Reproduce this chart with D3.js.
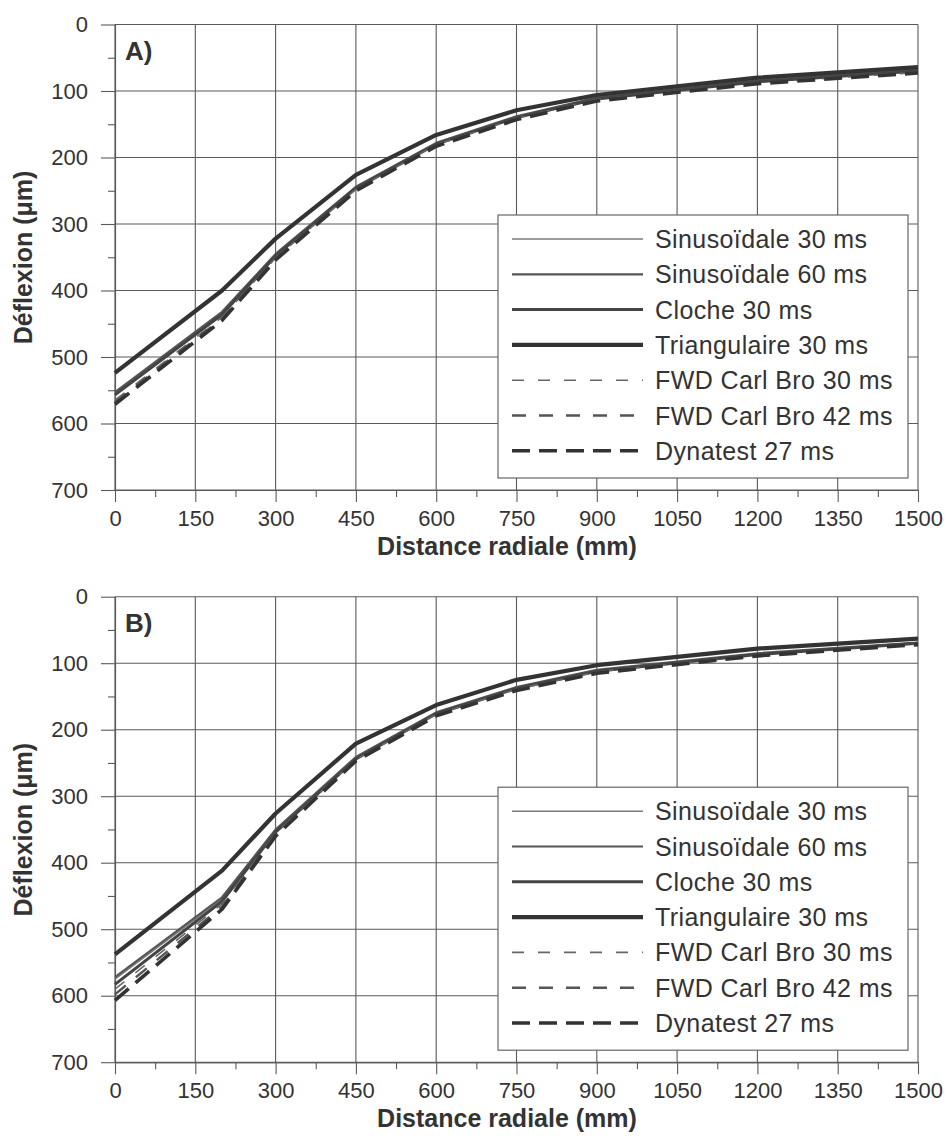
<!DOCTYPE html>
<html><head><meta charset="utf-8">
<script src="https://cdn.jsdelivr.net/npm/d3@7"></script>
<style>
body{margin:0;background:#fff}
svg{display:block}
text{font-family:"Liberation Sans",Arial,Helvetica,sans-serif}
</style>
</head><body>
<svg id="chart" width="948" height="1138"></svg>
<script>
// ---------- DATA ----------
const distances = [0, 200, 300, 450, 600, 750, 900, 1200, 1500];
const xTicks = [0, 150, 300, 450, 600, 750, 900, 1050, 1200, 1350, 1500];
const xMinorTicks = [75, 225, 375, 525, 675, 825, 975, 1125, 1275, 1425];
const yTicks = [0, 100, 200, 300, 400, 500, 600, 700];
const yMinorTicks = [50, 150, 250, 350, 450, 550, 650];
const seriesNames = ["Sinusoïdale 30 ms", "Sinusoïdale 60 ms", "Cloche 30 ms", "Triangulaire 30 ms",
                     "FWD Carl Bro 30 ms", "FWD Carl Bro 42 ms", "Dynatest 27 ms"];
const panelLabels = ["A)", "B)"];
const xTitle = "Distance radiale (mm)";
const yTitle = "Déflexion (μm)";

// Panel A deflections (µm)
const a_sinus30  = [555, 434, 347, 245, 179, 139, 111, 85, 69];
const a_sinus60  = [553, 432, 345, 244, 178, 138, 110, 84, 68];
const a_cloche30 = [557, 436, 348, 246, 180, 140, 112, 86, 70];
const a_triang30 = [524, 400, 322, 226, 166, 129, 106, 80, 64];
const a_fwd30    = [565, 440, 351, 248, 181, 141, 113, 88, 72];
const a_fwd42    = [568, 442, 352, 249, 182, 142, 114, 88, 72];
const a_dyna27   = [571, 445, 354, 250, 183, 143, 115, 89, 73];

// Panel B deflections (µm)
const b_sinus30  = [575, 455, 352, 243, 175, 137, 111, 86, 70];
const b_sinus60  = [572, 452, 350, 241, 174, 136, 110, 85, 69];
const b_cloche30 = [583, 458, 354, 244, 176, 138, 112, 87, 70];
const b_triang30 = [538, 412, 326, 221, 163, 125, 103, 78, 63];
const b_fwd30    = [590, 462, 356, 245, 177, 139, 113, 88, 71];
const b_fwd42    = [598, 466, 358, 246, 178, 140, 114, 88, 71];
const b_dyna27   = [607, 470, 360, 247, 179, 141, 115, 89, 72];

const panelA = [a_sinus30, a_sinus60, a_cloche30, a_triang30, a_fwd30, a_fwd42, a_dyna27];
const panelB = [b_sinus30, b_sinus60, b_cloche30, b_triang30, b_fwd30, b_fwd42, b_dyna27];

// ---------- STYLES ----------
const lineStyles = [
  {stroke:"#7a7a7a", width:1.4, dash:null},
  {stroke:"#555",    width:2.2, dash:null},
  {stroke:"#444",    width:3.0, dash:null},
  {stroke:"#333",    width:4.2, dash:null},
  {stroke:"#666",    width:1.6, dash:"12,14"},
  {stroke:"#555",    width:2.4, dash:"14,13"},
  {stroke:"#333",    width:3.6, dash:"18,9"}
];

const svg = d3.select("#chart");
svg.append("rect").attr("width",948).attr("height",1138).attr("fill","#fff");

const X0 = 115, X1 = 918;
const gridColor = "#5a5a5a";

function drawPanel(top, data, label) {
  const x = d3.scaleLinear().domain([0,1500]).range([X0, X1]);
  const y = d3.scaleLinear().domain([0,700]).range([top, top + 465.5]);
  const g = svg.append("g");

  // gridlines
  g.append("g").selectAll("line").data(xTicks).join("line")
    .attr("x1", d=>x(d)).attr("x2", d=>x(d)).attr("y1", y(0)).attr("y2", y(700))
    .attr("stroke", gridColor).attr("stroke-width", 1.1);
  g.append("g").selectAll("line").data(yTicks).join("line")
    .attr("x1", X0).attr("x2", X1).attr("y1", d=>y(d)).attr("y2", d=>y(d))
    .attr("stroke", gridColor).attr("stroke-width", 1.1);

  // y axis
  const yAx = g.append("g").attr("transform", `translate(${X0},0)`)
    .call(d3.axisLeft(y).tickValues(yTicks).tickSize(14).tickSizeOuter(0).tickPadding(13).tickFormat(d3.format("d")));
  const yMin = g.append("g").attr("transform", `translate(${X0},0)`)
    .call(d3.axisLeft(y).tickValues(yMinorTicks).tickSize(7).tickSizeOuter(0).tickFormat(""));
  // x axis
  const xAx = g.append("g").attr("transform", `translate(0,${y(700)})`)
    .call(d3.axisBottom(x).tickValues(xTicks).tickSize(12).tickSizeOuter(0).tickPadding(8).tickFormat(d3.format("d")));
  const xMin = g.append("g").attr("transform", `translate(0,${y(700)})`)
    .call(d3.axisBottom(x).tickValues(xMinorTicks).tickSize(7).tickSizeOuter(0).tickFormat(""));
  [yAx, yMin, xAx, xMin].forEach(a => {
    a.selectAll("path.domain").attr("stroke", gridColor).attr("stroke-width", 1.1);
    a.selectAll(".tick line").attr("stroke", gridColor).attr("stroke-width", 1.1);
    a.selectAll(".tick text").attr("font-size", 22).attr("fill", "#333")
      .attr("font-family", "'Liberation Sans',Arial,sans-serif");
  });

  // lines
  const lineGen = d3.line().x((d,i)=>x(distances[i])).y(d=>y(d));
  data.forEach((vals, k) => {
    const st = lineStyles[k];
    g.append("path").datum(vals).attr("d", lineGen)
      .attr("fill","none").attr("stroke", st.stroke).attr("stroke-width", st.width)
      .attr("stroke-dasharray", st.dash).attr("stroke-linejoin","round");
  });

  // panel label
  g.append("text").attr("x", 125).attr("y", top + 35.5).text(label)
    .attr("font-size", 26).attr("font-weight", "bold").attr("fill", "#333");

  // axis titles
  g.append("text").attr("x", 507).attr("y", top + 530).attr("text-anchor","middle")
    .attr("font-size", 25).attr("font-weight","bold").attr("fill","#333").text(xTitle);
  g.append("text").attr("transform", `translate(32,${top + 233}) rotate(-90)`)
    .attr("text-anchor","middle").attr("font-size", 25).attr("font-weight","bold")
    .attr("fill","#333").text(yTitle);

  // legend
  const lg = g.append("g");
  const lgTop = top + 190.5, lgLeft = 498, lgRight = 908, lgH = 263;
  lg.append("rect").attr("x", lgLeft).attr("y", lgTop).attr("width", lgRight - lgLeft).attr("height", lgH)
    .attr("fill","#fff").attr("stroke","#666").attr("stroke-width",1.2);
  seriesNames.forEach((name, k) => {
    const cy = lgTop + 24 + k * 35.3;
    const st = lineStyles[k];
    lg.append("line").attr("x1", 512).attr("x2", 643).attr("y1", cy).attr("y2", cy)
      .attr("stroke", st.stroke).attr("stroke-width", st.width).attr("stroke-dasharray", st.dash);
    lg.append("text").attr("x", 655).attr("y", cy + 9).text(name)
      .attr("font-size", 25).attr("letter-spacing", "0.4px").attr("fill", "#333");
  });
}

drawPanel(24.5, panelA, panelLabels[0]);
drawPanel(596.7, panelB, panelLabels[1]);
</script>
</body></html>
